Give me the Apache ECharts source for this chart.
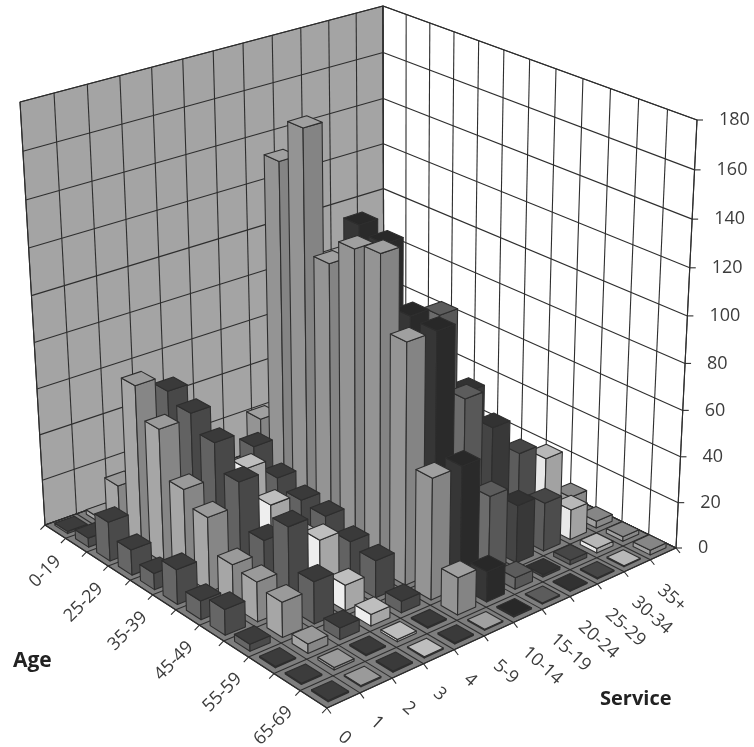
<!DOCTYPE html>
<html>
<head>
<meta charset="utf-8">
<script src="https://cdn.jsdelivr.net/npm/echarts@6/dist/echarts.min.js"></script>
<style>
html,body{margin:0;padding:0;background:#fff}
#chart{width:754px;height:747px}
</style>
</head>
<body>
<div id="chart"></div>
<script>
var ages = ['0-19','20-24','25-29','30-34','35-39','40-44','45-49','50-54','55-59','60-64','65-69','70+']
var services = ['0','1','2','3','4','5-9','10-14','15-19','20-24','25-29','30-34','35+']
var valueTicks = [0,20,40,60,80,100,120,140,160,180]

// one list per service band, values run through the ages
var service0  = [1,4,17,11,7,15,8,11,3,0.5,0.5,0.5]
var service1  = [2,22,71,58,38,32,18,17,15,4,1,0.5]
var service2  = [0.5,2,64,60,53,42,23,35,18,5,0.5,0.5]
var service3  = [0.5,1,8,28,37,27,20,24,11,5,1,0.5]
var service4  = [0.5,1,5,36,28,24,23,18,16,5,0.5,0.5]
var service5  = [0.5,1,38,153,171,120,131,134,103,52,16,0.5]
var service6  = [0.5,0.5,2,10,30,132,129,104,103,52,13,0.5]
var service7  = [0.5,0.5,1,5,20,40,60,100,70,34,5,0.5]
var service8  = [0.5,0.5,1,3,10,20,40,63,53,25,1,0.5]
var service9  = [0.5,0.5,0.5,1,5,10,20,25,37,21,2,0.5]
var service10 = [0.5,0.5,0.5,0.5,1,4,8,15,30,13,2,0.5]
var service11 = [0.5,0.5,0.5,0.5,0.5,1,2,4,8,3,2,2]
var serviceRows = [service0,service1,service2,service3,service4,service5,service6,service7,service8,service9,service10,service11]

// left face, right face, top of the bars in each service band
var shades = [
	['#666666','#4a4a4a','#3c3c3c'],
	['#a6a6a6','#868686','#9a9a9a'],
	['#626262','#484848','#3a3a3a'],
	['#eeeeee','#a6a6a6','#bebebe'],
	['#626262','#464646','#3a3a3a'],
	['#949494','#848484','#a0a0a0'],
	['#363636','#2a2a2a','#282828'],
	['#6c6c6c','#585858','#5c5c5c'],
	['#444444','#383838','#323232'],
	['#5c5c5c','#4c4c4c','#464646'],
	['#e8e8e8','#a2a2a2','#b8b8b8'],
	['#a0a0a0','#888888','#868686']
]

// box corners on the page: left, front, right, back
var floorQuad = [[45,525],[327,708],[676,548],[384,405]]
var roofQuad = [[20,102],[325,250],[697,120],[383,6]]

function quadMap(q){
	var dx1 = q[1][0]-q[2][0], dx2 = q[3][0]-q[2][0], sx = q[0][0]-q[1][0]+q[2][0]-q[3][0]
	var dy1 = q[1][1]-q[2][1], dy2 = q[3][1]-q[2][1], sy = q[0][1]-q[1][1]+q[2][1]-q[3][1]
	var den = dx1*dy2-dx2*dy1
	var g = (sx*dy2-dx2*sy)/den, h = (dx1*sy-sx*dy1)/den
	var a = q[1][0]-q[0][0]+g*q[1][0], b = q[3][0]-q[0][0]+h*q[3][0], c = q[0][0]
	var d = q[1][1]-q[0][1]+g*q[1][1], e = q[3][1]-q[0][1]+h*q[3][1], f = q[0][1]
	return function(u,v){
		var w = g*u+h*v+1
		return [(a*u+b*v+c)/w,(d*u+e*v+f)/w]
	}
}
var floorAt = quadMap(floorQuad)
var roofAt = quadMap(roofQuad)

// u runs along age, v along service, t up the value axis (all 0..1)
function project(u,v,t){
	var p = floorAt(u,v), r = roofAt(u,v)
	var s = t/(t+(1-t)*1.055)
	return [p[0]+(r[0]-p[0])*s,p[1]+(r[1]-p[1])*s]
}

var lineColor = '#2e2e2e'

function poly(points,fill,width){
	return {type:'polygon',shape:{points:points},style:{fill:fill,stroke:lineColor,lineWidth:width||1.1,lineJoin:'round'},silent:true}
}
function seg(a,b,width){
	return {type:'line',shape:{x1:a[0],y1:a[1],x2:b[0],y2:b[1]},style:{stroke:lineColor,lineWidth:width||1.1},silent:true}
}
function label(text,x,y,rot,align,size,bold){
	return {type:'text',x:x,y:y,rotation:rot*Math.PI/180,style:{text:text,align:align,verticalAlign:'middle',fill:bold?'#222':'#3c3c3c',
		font:(bold?'bold ':'')+size+'px "Open Sans", sans-serif'},silent:true}
}

function renderBox(params,api){
	var kids = [], n, i
	var tMax = valueTicks[valueTicks.length-1]
	kids.push(poly([project(0,0,0),project(0,1,0),project(0,1,1),project(0,0,1)],'#a4a4a4'))
	kids.push(poly([project(0,1,0),project(1,1,0),project(1,1,1),project(0,1,1)],'#ffffff'))
	kids.push(poly([project(0,0,0),project(1,0,0),project(1,1,0),project(0,1,0)],'#7e7e7e'))
	n = services.length
	for(i=0;i<=n;i++){
		kids.push(seg(project(0,i/n,0),project(0,i/n,1)))
		kids.push(seg(project(0,i/n,0),project(1,i/n,0)))
		var tick = project(1.012,i/n,0)
		kids.push(seg(project(1,i/n,0),[tick[0],tick[1]+3]))
	}
	n = ages.length
	for(i=0;i<=n;i++){
		kids.push(seg(project(i/n,1,0),project(i/n,1,1)))
		kids.push(seg(project(i/n,0,0),project(i/n,1,0)))
		var tick2 = project(i/n,-0.012,0)
		kids.push(seg(project(i/n,0,0),[tick2[0],tick2[1]+3]))
	}
	valueTicks.forEach(function(v){
		var t = v/tMax
		var e = project(1,1,t)
		kids.push(seg(project(0,0,t),project(0,1,t)))
		kids.push(seg(project(0,1,t),e))
		kids.push(seg(e,[e[0]+6,e[1]]))
		kids.push(label(String(v),e[0]+22,e[1],0,'left',18))
	})
	ages.forEach(function(name,a){
		if(a%2) return
		var p = project((a+0.5)/ages.length,0,0)
		kids.push(label(name,p[0]+3,p[1]+27,45,'right',18))
	})
	services.forEach(function(name,s){
		var p = project(1,(s+0.5)/services.length,0)
		kids.push(label(name,p[0]-3,p[1]+34,-42,'left',18))
	})
	kids.push(label('Age',13,661,0,'left',21,true))
	kids.push(label('Service',600,699,0,'left',20,true))
	return {type:'group',children:kids}
}

function renderBar(params,api){
	var a = api.value(0), s = api.value(1), val = api.value(2)
	var pad = 0.19
	var c = shades[s]
	var u0 = (a+pad)/ages.length, u1 = (a+1-pad)/ages.length
	var v0 = (s+pad)/services.length, v1 = (s+1-pad)/services.length
	// the hidden grid is the scale: y pixel of the value, read back as a share of the axis
	var cs = params.coordSys
	var t = (cs.y+cs.height-api.coord([a,val])[1])/cs.height
	return {type:'group',children:[
		poly([project(u0,v0,0),project(u1,v0,0),project(u1,v0,t),project(u0,v0,t)],c[0]),
		poly([project(u1,v0,0),project(u1,v1,0),project(u1,v1,t),project(u1,v0,t)],c[1]),
		poly([project(u0,v0,t),project(u1,v0,t),project(u1,v1,t),project(u0,v1,t)],c[2])
	]}
}

// far cells first so nearer bars paint over them
var cells = []
ages.forEach(function(name,a){
	for(var s=services.length-1;s>=0;s--){
		cells.push([a,s,serviceRows[s][a]])
	}
})

var myChart = echarts.init(document.getElementById('chart'))
myChart.setOption({
	animation:false,
	grid:{left:0,right:0,top:0,bottom:0},
	xAxis:{type:'category',data:ages,show:false},
	yAxis:{type:'value',min:0,max:180,interval:20,show:false},
	series:[
		{type:'custom',silent:true,renderItem:renderBox,data:[[0,0]],clip:false,z:1},
		{type:'custom',silent:true,renderItem:renderBar,data:cells,clip:false,z:2,encode:{x:0,y:2}}
	]
})
</script>
</body>
</html>
